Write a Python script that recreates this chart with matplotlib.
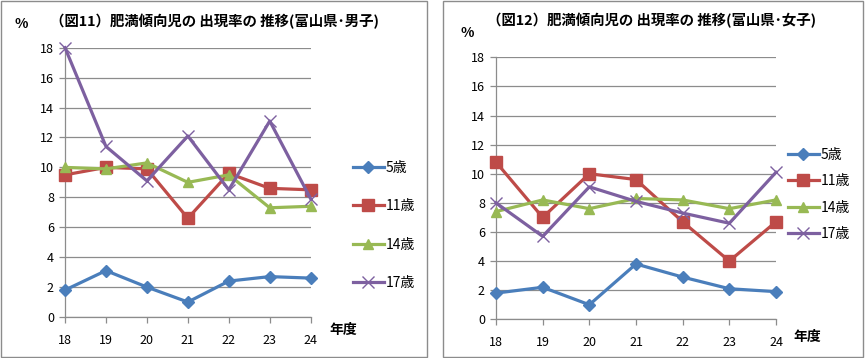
import matplotlib
matplotlib.use("Agg")
import matplotlib.pyplot as plt
from matplotlib.patches import Rectangle

plt.rcParams['font.family'] = ['Noto Sans CJK JP', 'DejaVu Sans']

years = [18, 19, 20, 21, 22, 23, 24]
labels = ['5歳', '11歳', '14歳', '17歳']

boys_5 = [1.8, 3.1, 2.0, 1.0, 2.4, 2.7, 2.6]
boys_11 = [9.5, 10.0, 9.9, 6.6, 9.6, 8.6, 8.5]
boys_14 = [10.0, 9.9, 10.3, 9.0, 9.5, 7.3, 7.4]
boys_17 = [18.0, 11.4, 9.1, 12.1, 8.5, 13.1, 7.9]

girls_5 = [1.8, 2.2, 1.0, 3.8, 2.9, 2.1, 1.9]
girls_11 = [10.8, 7.0, 10.0, 9.6, 6.7, 4.0, 6.7]
girls_14 = [7.4, 8.2, 7.6, 8.3, 8.2, 7.6, 8.2]
girls_17 = [8.0, 5.7, 9.1, 8.1, 7.3, 6.6, 10.1]

title_boys = '（図11）肥満傾向児の 出現率の 推移(富山県･男子)'
title_girls = '（図12）肥満傾向児の 出現率の 推移(富山県･女子)'

colors = ['#4A7EBB', '#BE4B48', '#98B954', '#7D60A0']
markers = ['D', 's', '^', 'x']
msizes = [6, 8, 7, 8]

W, H = 865, 358
fig = plt.figure(figsize=(W / 100, H / 100), dpi=100)

def fx(px):
    return px / W

def fy(py):
    return 1 - py / H

# chart frames
for (x0, y0, x1, y1) in [(0.5, 0.5, 427, 357), (443, 1, 863, 357)]:
    fig.patches.append(Rectangle((fx(x0), fy(y1)), fx(x1) - fx(x0), fy(y0) - fy(y1),
                                 transform=fig.transFigure, fill=False,
                                 edgecolor='#8c8c8c', linewidth=1.0))

def draw(rect, series, title, title_xy, pct_xy, nendo_xy, leg_anchor, leg_spacing):
    ax = fig.add_axes(rect)
    for vals, lab, c, m, ms in zip(series, labels, colors, markers, msizes):
        ax.plot(years, vals, color=c, linewidth=2.3, marker=m, markersize=ms,
                markeredgecolor=c, markerfacecolor=c, markeredgewidth=1.0,
                label=lab, clip_on=False, zorder=3)
    ax.set_xlim(18, 24)
    ax.set_ylim(0, 18)
    ax.set_yticks(range(0, 19, 2))
    ax.set_xticks(years)
    ax.grid(axis='y', color='#8c8c8c', linewidth=0.9)
    ax.set_axisbelow(True)
    for s in ['top', 'right']:
        ax.spines[s].set_visible(False)
    for s in ['left', 'bottom']:
        ax.spines[s].set_color('#8c8c8c')
        ax.spines[s].set_linewidth(0.9)
    ax.tick_params(axis='both', colors='#8c8c8c', labelcolor='black', labelsize=9,
                   length=4, width=0.9)
    ax.tick_params(axis='x', pad=8)
    ax.tick_params(axis='y', pad=4)
    fig.text(fx(title_xy[0]), fy(title_xy[1]), title, fontsize=10.4, fontweight='bold',
             ha='left', va='center')
    fig.text(fx(pct_xy[0]), fy(pct_xy[1]), '%', fontsize=10, fontweight='bold',
             ha='center', va='center')
    fig.text(fx(nendo_xy[0]), fy(nendo_xy[1]), '年度', fontsize=10, fontweight='bold',
             ha='left', va='center')
    ax.legend(loc='center left', bbox_to_anchor=leg_anchor, bbox_transform=fig.transFigure,
              frameon=False, fontsize=10, labelspacing=leg_spacing, handlelength=2.2,
              handletextpad=0.15, borderpad=0, borderaxespad=0)
    return ax

draw([fx(65), fy(317), fx(310.7) - fx(65), fy(47.7) - fy(317)],
     [boys_5, boys_11, boys_14, boys_17], title_boys,
     (50, 22), (21, 24), (329, 330), (fx(353), fy(225.5)), 1.75)

draw([fx(496), fy(319.3), fx(776) - fx(496), fy(57.3) - fy(319.3)],
     [girls_5, girls_11, girls_14, girls_17], title_girls,
     (487, 21), (467, 33), (793, 337), (fx(788), fy(194.5)), 0.9)

fig.savefig('out.png', dpi=100)
